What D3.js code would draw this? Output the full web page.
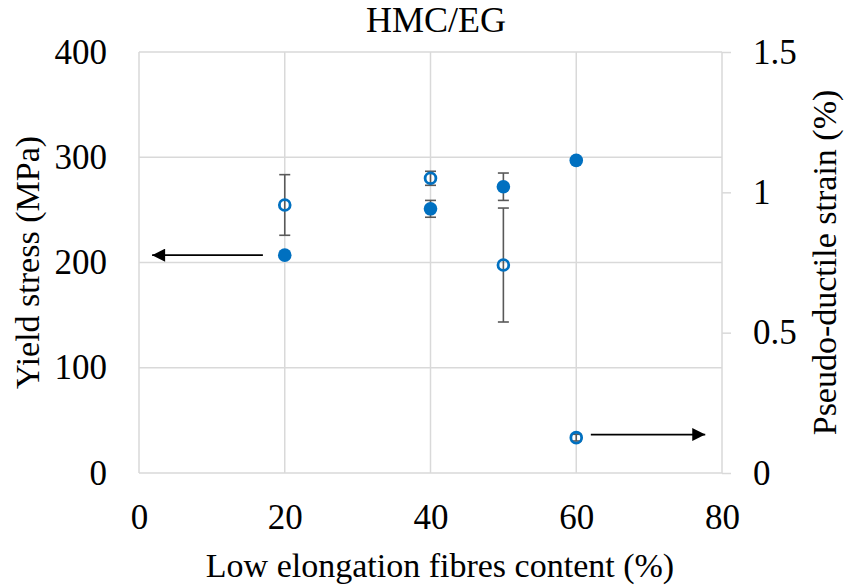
<!DOCTYPE html>
<html>
<head>
<meta charset="utf-8">
<script src="https://cdn.jsdelivr.net/npm/d3@7"></script>
<style>
  body { margin: 0; background: #fff; }
  text { font-family: "Liberation Serif", "Times New Roman", serif; }
</style>
</head>
<body>
<div id="chart"></div>
<script>
"use strict"

// data
const fibreContent = [20, 40, 50, 60];
const yieldStress = [207, 251, 272, 297];
const yieldErr = [0, 8, 13, 0];
const strain = [0.955, 1.05, 0.741, 0.126];
const strainErr = [0.108, 0.025, 0.203, 0.012];
const xTicks = [0, 20, 40, 60, 80];
const yTicks = [0, 100, 200, 300, 400];
const y2Ticks = [0, 0.5, 1, 1.5];

const margin = {top: 52, right: 124, bottom: 115, left: 139},
  width = 846 - margin.left - margin.right,
  height = 588 - margin.top - margin.bottom;

const svg = d3.select("#chart").append("svg")
  .attr("width", 846).attr("height", 588);
const g = svg.append("g")
  .attr("transform", "translate(" + margin.left + "," + margin.top + ")");

const x = d3.scaleLinear().domain([0, 80]).range([0, width]);
const y = d3.scaleLinear().domain([0, 400]).range([height, 0]);
const y2 = d3.scaleLinear().domain([0, 1.5]).range([height, 0]);

// gridlines
const gridColor = "#d9d9d9";
g.selectAll(".hgrid").data(yTicks).enter().append("line")
  .attr("x1", 0).attr("x2", width)
  .attr("y1", d => y(d)).attr("y2", d => y(d))
  .style("stroke", gridColor).style("stroke-width", 1.5);
g.selectAll(".vgrid").data(xTicks).enter().append("line")
  .attr("y1", 0).attr("y2", height)
  .attr("x1", d => x(d)).attr("x2", d => x(d))
  .style("stroke", gridColor).style("stroke-width", 1.5);

// axes
const tickFs = "35px";
const titleFs = "34px";
g.append("g").attr("transform", "translate(0," + height + ")")
  .call(d3.axisBottom(x).tickValues(xTicks).tickSize(0).tickPadding(31))
  .call(a => a.select(".domain").remove())
  .selectAll("text").style("font-size", tickFs).style("fill", "#000");
g.append("g")
  .call(d3.axisLeft(y).tickValues(yTicks).tickSize(0).tickPadding(32))
  .call(a => a.select(".domain").remove())
  .selectAll("text").style("font-size", tickFs).style("fill", "#000");
const rAxis = g.append("g").attr("transform", "translate(" + width + ",0)")
  .call(d3.axisRight(y2).tickValues(y2Ticks).tickFormat(d3.format("")).tickSize(9).tickPadding(22))
  .call(a => a.select(".domain").remove());
rAxis.selectAll("line").style("stroke", gridColor).style("stroke-width", 1.5);
rAxis.selectAll("text").style("font-size", tickFs).style("fill", "#000");

// error bars
const errColor = "#595959";
function errBars(vals, errs, scale, cls) {
  const d = fibreContent.map((f, i) => ({f: f, v: vals[i], e: errs[i]})).filter(d => d.e > 0);
  const eg = g.selectAll("." + cls).data(d).enter().append("g");
  eg.append("line")
    .attr("x1", d => x(d.f)).attr("x2", d => x(d.f))
    .attr("y1", d => scale(d.v - d.e)).attr("y2", d => scale(d.v + d.e))
    .style("stroke", errColor).style("stroke-width", 1.6);
  eg.append("line")
    .attr("x1", d => x(d.f) - 5.5).attr("x2", d => x(d.f) + 5.5)
    .attr("y1", d => scale(d.v - d.e)).attr("y2", d => scale(d.v - d.e))
    .style("stroke", errColor).style("stroke-width", 1.6);
  eg.append("line")
    .attr("x1", d => x(d.f) - 5.5).attr("x2", d => x(d.f) + 5.5)
    .attr("y1", d => scale(d.v + d.e)).attr("y2", d => scale(d.v + d.e))
    .style("stroke", errColor).style("stroke-width", 1.6);
}
errBars(yieldStress, yieldErr, y, "eb1");
errBars(strain, strainErr, y2, "eb2");

// markers
const blue = "#0070c0";
g.selectAll(".ys").data(fibreContent).enter().append("circle")
  .attr("cx", d => x(d)).attr("cy", (d, i) => y(yieldStress[i]))
  .attr("r", 6.8).style("fill", blue);
g.selectAll(".st").data(fibreContent).enter().append("circle")
  .attr("cx", d => x(d)).attr("cy", (d, i) => y2(strain[i]))
  .attr("r", 5.4).style("fill", "none").style("stroke", blue).style("stroke-width", 2.8);

// arrows
svg.append("defs").append("marker")
  .attr("id", "arr").attr("viewBox", "0 0 10 10")
  .attr("refX", 10).attr("refY", 5)
  .attr("markerWidth", 14).attr("markerHeight", 13)
  .attr("markerUnits", "userSpaceOnUse")
  .attr("orient", "auto")
  .append("path").attr("d", "M0,0 L10,5 L0,10 Z").style("fill", "#000");
g.append("line")
  .attr("x1", x(17)).attr("x2", x(1.8))
  .attr("y1", y(207)).attr("y2", y(207))
  .style("stroke", "#000").style("stroke-width", 1.8).attr("marker-end", "url(#arr)");
g.append("line")
  .attr("x1", x(62)).attr("x2", x(77.7))
  .attr("y1", y2(0.137)).attr("y2", y2(0.137))
  .style("stroke", "#000").style("stroke-width", 1.8).attr("marker-end", "url(#arr)");

// titles
svg.append("text").attr("x", 436).attr("y", 32)
  .attr("text-anchor", "middle").style("font-size", "36px").text("HMC/EG");
svg.append("text").attr("x", 440).attr("y", 577)
  .attr("text-anchor", "middle").style("font-size", titleFs).text("Low elongation fibres content (%)");
svg.append("text").attr("transform", "translate(39," + (margin.top + height / 2) + ") rotate(-90)")
  .attr("text-anchor", "middle").style("font-size", titleFs).text("Yield stress (MPa)");
svg.append("text").attr("transform", "translate(836," + (margin.top + height / 2) + ") rotate(-90)")
  .attr("text-anchor", "middle").style("font-size", titleFs).text("Pseudo-ductile strain (%)");
</script>
</body>
</html>
